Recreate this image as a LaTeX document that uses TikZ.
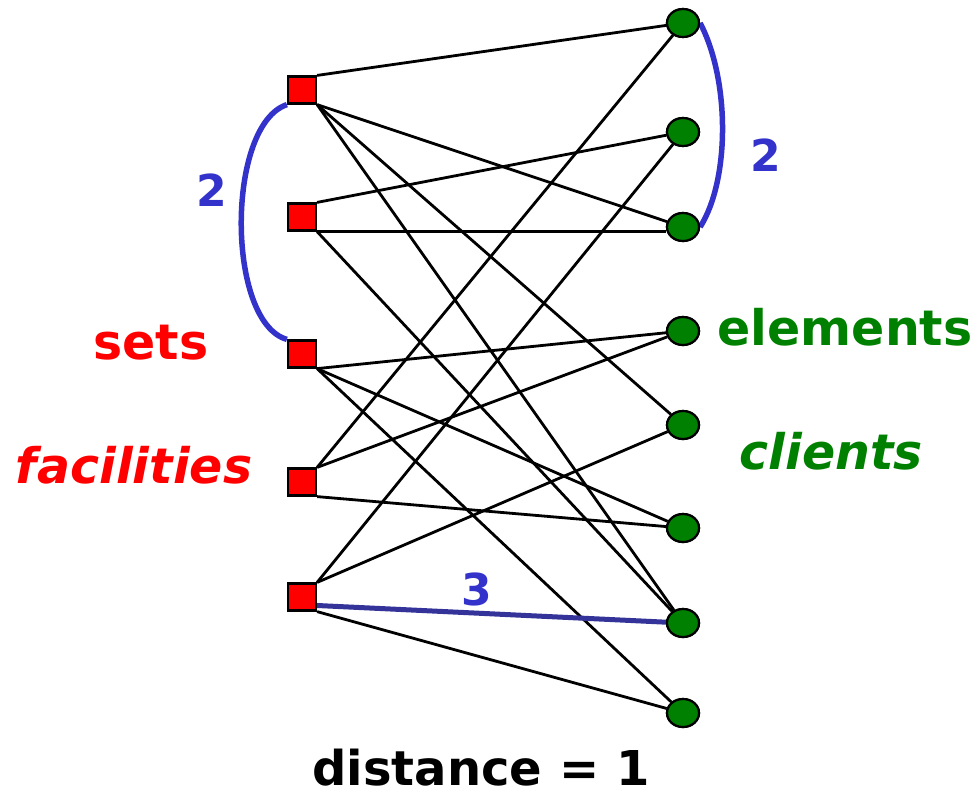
\documentclass[tikz,border=0pt]{standalone}
\usepackage{fontspec}
\setmainfont{DejaVu Sans}
\usetikzlibrary{shapes.geometric}
\definecolor{setred}{RGB}{255,0,0}
\definecolor{elgreen}{RGB}{0,128,0}
\definecolor{dblue}{RGB}{51,51,204}
\definecolor{lblue}{RGB}{51,51,153}
\tikzset{
  setbox/.style={draw=black, line width=2.2pt, fill=setred, minimum width=28pt, minimum height=27pt, inner sep=0pt},
  elnode/.style={draw=black, line width=2.2pt, fill=elgreen, ellipse, minimum width=32pt, minimum height=28pt, inner sep=0pt},
  edge/.style={draw=black, line width=2.8pt},
  dist/.style={draw=dblue, line width=5.5pt},
  lbl/.style={font=\fontsize{49}{56}\selectfont\bfseries, inner sep=0pt, anchor=base},
  numlbl/.style={font=\fontsize{44}{52}\selectfont\bfseries, text=dblue, inner sep=0pt, anchor=base}
}
\begin{document}
\begin{tikzpicture}[x=1pt,y=-1pt]
\useasboundingbox (0,0) rectangle (980,793);
\node[setbox] (S1) at (302,90) {};
\node[setbox] (S2) at (302,217) {};
\node[setbox] (S3) at (302,354) {};
\node[setbox] (S4) at (302,482) {};
\node[setbox] (S5) at (302,597) {};
\node[elnode] (C1) at (683,23) {};
\node[elnode] (C2) at (683,132) {};
\node[elnode] (C3) at (683,227) {};
\node[elnode] (C4) at (683,331) {};
\node[elnode] (C5) at (683,425) {};
\node[elnode] (C6) at (683,528) {};
\node[elnode] (C7) at (683,623) {};
\node[elnode] (C8) at (683,713) {};
% edges
\draw[edge] (S1.north east) -- (C1);
\draw[edge] (S1.south east) -- (C3);
\draw[edge] (S1.south east) -- (C5);
\draw[edge] (S1.south east) -- (C7);
\draw[edge] (S2.north east) -- (C2);
\draw[edge] (S2.south east) -- (C3.west |- S2.south east);
\draw[edge] (S2.south east) -- (C7);
\draw[edge] (S3.south east) -- (C4);
\draw[edge] (S3.south east) -- (C6);
\draw[edge] (S3.south east) -- (C8);
\draw[edge] (S4.north east) -- (C1);
\draw[edge] (S4.north east) -- (C4);
\draw[edge] (S4.south east) -- (C6);
\draw[edge] (S5.north east) -- (C2);
\draw[edge] (S5.north east) -- (C5);
\draw[edge] (S5.south east) -- (C8);
% blue distance marks
\draw[draw=lblue, line width=5pt] (307,605) -- (C7.center);
\draw[dist] (S1.south west) .. controls (226,125) and (226,322) .. (S3.north west);
\draw[dist] (C1.east) .. controls (730,80) and (730,180) .. (C3.east);
% redraw nodes on top
\foreach \s in {S1,S2,S3,S4,S5} \node[setbox] at (\s) {};
\foreach \c in {C1,C2,C3,C4,C5,C6,C7,C8} \node[elnode] at (\c) {};
% labels
\node[numlbl] (n2a) at (212,206) {2};
\node[numlbl] (n2b) at (766,171) {2};
\node[numlbl] (n3) at (477,605) {3};
\node[lbl, text=setred] (tsets) at (151,359) {sets};
\node[lbl, text=setred, font=\fontsize{49}{56}\selectfont\bfseries\itshape] (tfac) at (134,483) {facilities};
\node[lbl, text=elgreen] (tel) at (845,345) {elements};
\node[lbl, text=elgreen, font=\fontsize{49}{56}\selectfont\bfseries\itshape] (tcl) at (831,469) {clients};
\node[lbl, text=black, font=\fontsize{48}{56}\selectfont\bfseries] (tdist) at (481,785) {distance = 1};
\end{tikzpicture}
\end{document}
